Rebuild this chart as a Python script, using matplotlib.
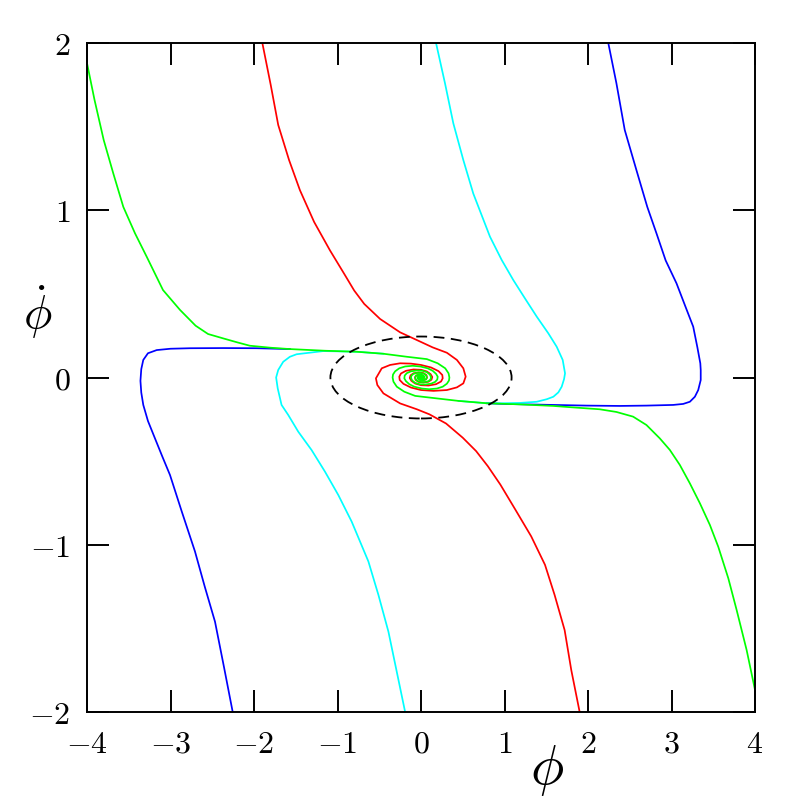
import matplotlib
matplotlib.use("Agg")
import matplotlib.pyplot as plt
from matplotlib.patches import Ellipse

plt.rcParams['mathtext.fontset'] = 'cm'

# ---------------- data ----------------
blue_a_x = [2.243, 2.34, 2.44, 2.58, 2.71, 2.82, 2.93, 3.06, 3.17, 3.26, 3.31, 3.345, 3.35, 3.35, 3.32,
            3.28, 3.22, 3.14, 3.02, 2.70, 2.38, 1.985, 1.585, 1.186, 0.985, 0.787]
blue_a_y = [2.0, 1.76, 1.48, 1.24, 1.02, 0.862, 0.70, 0.563, 0.42, 0.304, 0.18, 0.085, 0.045, -0.015, -0.075,
            -0.115, -0.145, -0.158, -0.164, -0.168, -0.170, -0.168, -0.164, -0.160, -0.158, -0.154]

blue_b_x = [-2.255, -2.36, -2.467, -2.59, -2.707, -2.866, -3.006, -3.10, -3.186, -3.27, -3.326, -3.35, -3.36,
            -3.35, -3.326, -3.27, -3.165, -3.0, -2.766, -2.37, -1.968, -1.57]
blue_b_y = [-2.0, -1.73, -1.46, -1.25, -1.04, -0.80, -0.583, -0.47, -0.364, -0.26, -0.164, -0.09, -0.02,
            0.05, 0.105, 0.145, 0.164, 0.172, 0.175, 0.176, 0.175, 0.170]

cyan_a_x = [0.18, 0.287, 0.387, 0.507, 0.626, 0.826, 0.966, 1.105, 1.245, 1.386, 1.525, 1.625, 1.697, 1.725,
            1.713, 1.685, 1.645, 1.585, 1.505, 1.386, 1.186, 0.985, 0.787, 0.45]
cyan_a_y = [2.0, 1.76, 1.52, 1.30, 1.10, 0.842, 0.703, 0.583, 0.473, 0.364, 0.264, 0.184, 0.105, 0.025,
            -0.01, -0.055, -0.089, -0.115, -0.13, -0.145, -0.152, -0.154, -0.154, -0.14]

cyan_b_x = [-0.19, -0.29, -0.39, -0.51, -0.63, -0.83, -0.99, -1.15, -1.31, -1.47, -1.59, -1.67, -1.716, -1.735,
            -1.71, -1.65, -1.57, -1.49, -1.17, -0.77, -0.45]
cyan_b_y = [-2.0, -1.76, -1.52, -1.30, -1.10, -0.862, -0.703, -0.563, -0.434, -0.324, -0.224, -0.164, -0.065, 0.0,
            0.045, 0.094, 0.124, 0.139, 0.158, 0.154, 0.142]

red_a_x = [-1.90, -1.80, -1.71, -1.58, -1.45, -1.28, -1.09, -0.92, -0.80, -0.68, -0.49, -0.25, -0.05, 0.14, 0.31, 0.43,
           0.507, 0.535,
           0.507, 0.43, 0.31, 0.15, 0.0, -0.12, -0.21, -0.255, -0.26,
           -0.24, -0.18, -0.09, 0.0, 0.07, 0.115, 0.135,
           0.125, 0.09, 0.03, -0.03, -0.065, -0.072,
           -0.06, -0.025, 0.01, 0.033, 0.036, 0.02, 0.0, -0.012]
red_a_y = [2.0, 1.75, 1.51, 1.30, 1.12, 0.93, 0.76, 0.62, 0.52, 0.44, 0.35, 0.27, 0.224, 0.18, 0.148, 0.105,
           0.055, 0.005,
           -0.035, -0.059, -0.075, -0.08, -0.075, -0.06, -0.038, -0.015, 0.005,
           0.024, 0.04, 0.048, 0.046, 0.036, 0.02, 0.003,
           -0.013, -0.025, -0.03, -0.026, -0.014, 0.0,
           0.011, 0.017, 0.015, 0.007, -0.002, -0.008, -0.008, -0.002]

red_b_x = [1.90, 1.80, 1.72, 1.60, 1.485, 1.32, 1.13, 0.95, 0.80, 0.66, 0.50, 0.30, 0.10, -0.05, -0.25, -0.45,
           -0.523, -0.54,
           -0.47, -0.37, -0.25, -0.12, 0.0, 0.12, 0.21, 0.255, 0.26,
           0.24, 0.18, 0.09, 0.0, -0.07, -0.115, -0.135,
           -0.125, -0.09, -0.03, 0.03, 0.065, 0.072,
           0.06, 0.025, -0.01, -0.033, -0.036, -0.02, 0.0, 0.012]
red_b_y = [-2.0, -1.75, -1.51, -1.30, -1.12, -0.95, -0.79, -0.64, -0.53, -0.44, -0.36, -0.275, -0.22, -0.19, -0.155, -0.095,
           -0.045, -0.005,
           0.055, 0.075, 0.085, 0.083, 0.075, 0.06, 0.038, 0.015, -0.005,
           -0.024, -0.04, -0.048, -0.046, -0.036, -0.02, -0.003,
           0.013, 0.025, 0.03, 0.026, 0.014, 0.0,
           -0.011, -0.017, -0.015, -0.007, 0.002, 0.008, 0.008, 0.002]

green_a_x = [-4.0, -3.91, -3.80, -3.685, -3.565, -3.425, -3.285, -3.09, -2.886, -2.70, -2.55, -2.37, -2.2, -2.05,
             -1.8, -1.57, -1.15, -0.77, -0.45, -0.17, 0.07, 0.20, 0.29, 0.33, 0.34,
             0.335, 0.31, 0.26, 0.19, 0.10, 0.01, -0.08, -0.14, -0.18, -0.20,
             -0.195, -0.17, -0.12, -0.05, 0.02, 0.07, 0.105, 0.12,
             0.115, 0.09, 0.05, 0.0, -0.04, -0.065, -0.07,
             -0.06, -0.03, 0.005, 0.03, 0.042,
             0.035, 0.015, -0.01, -0.025, -0.022, -0.005, 0.01]
green_a_y = [1.88, 1.66, 1.42, 1.22, 1.02, 0.862, 0.722, 0.523, 0.404, 0.31, 0.26, 0.234, 0.21, 0.19,
             0.178, 0.170, 0.160, 0.154, 0.142, 0.124, 0.11, 0.085, 0.055, 0.025, 0.0,
             -0.018, -0.037, -0.055, -0.066, -0.07, -0.066, -0.055, -0.04, -0.022, -0.005,
             0.012, 0.026, 0.037, 0.042, 0.04, 0.032, 0.018, 0.003,
             -0.011, -0.022, -0.027, -0.027, -0.021, -0.01, 0.002,
             0.011, 0.016, 0.016, 0.01, 0.002,
             -0.006, -0.01, -0.009, -0.003, 0.004, 0.006, 0.003]

green_b_x = [4.0, 3.90, 3.78, 3.68, 3.56, 3.46, 3.34, 3.22, 3.10, 2.98, 2.86, 2.70, 2.54, 2.34, 2.14,
             1.8, 1.585, 1.15, 0.787, 0.45, 0.19, -0.07, -0.20, -0.29, -0.33, -0.34,
             -0.335, -0.31, -0.26, -0.19, -0.10, -0.01, 0.08, 0.14, 0.18, 0.20,
             0.195, 0.17, 0.12, 0.05, -0.02, -0.07, -0.105, -0.12,
             -0.115, -0.09, -0.05, 0.0, 0.04, 0.065, 0.07,
             0.06, 0.03, -0.005, -0.03, -0.042,
             -0.035, -0.015, 0.01, 0.025, 0.022, 0.005, -0.01]
green_b_y = [-1.868, -1.63, -1.39, -1.20, -1.012, -0.882, -0.752, -0.633, -0.523, -0.433, -0.364, -0.284, -0.234, -0.206, -0.19,
             -0.178, -0.170, -0.160, -0.154, -0.14, -0.125, -0.11, -0.085, -0.055, -0.025, 0.0,
             0.018, 0.037, 0.055, 0.066, 0.07, 0.066, 0.055, 0.04, 0.022, 0.005,
             -0.012, -0.026, -0.037, -0.042, -0.04, -0.032, -0.018, -0.003,
             0.011, 0.022, 0.027, 0.027, 0.021, 0.01, -0.002,
             -0.011, -0.016, -0.016, -0.01, -0.002,
             0.006, 0.01, 0.009, 0.003, -0.004, -0.006, -0.003]

ellipse_center = (0.0, 0.0)
ellipse_width = 2.17
ellipse_height = 0.49

x_ticks = [-4, -3, -2, -1, 0, 1, 2, 3, 4]
y_ticks = [-2, -1, 0, 1, 2]

# ---------------- figure ----------------
fig = plt.figure(figsize=(7.97, 7.97), dpi=100)
ax = fig.add_axes([87/797, 1 - 712/797, (755 - 87)/797, (712 - 43)/797])

lw = 1.25
for xs, ys, c in [(blue_a_x, blue_a_y, '#0000ff'), (blue_b_x, blue_b_y, '#0000ff'),
                  (cyan_a_x, cyan_a_y, '#00ffff'), (cyan_b_x, cyan_b_y, '#00ffff'),
                  (red_a_x, red_a_y, '#ff0000'), (red_b_x, red_b_y, '#ff0000'),
                  (green_a_x, green_a_y, '#00ff00'), (green_b_x, green_b_y, '#00ff00')]:
    ax.plot(xs, ys, color=c, lw=lw, solid_joinstyle='round')

ax.add_patch(Ellipse(ellipse_center, ellipse_width, ellipse_height, fill=False,
                     edgecolor='black', lw=1.3, linestyle=(0, (6, 3.6)), zorder=5))

ax.set_xlim(-4, 4)
ax.set_ylim(-2, 2)
ax.set_xticks(x_ticks)
ax.set_yticks(y_ticks)
ax.set_xticklabels([f'${t}$' for t in x_ticks])
ax.set_yticklabels([f'${t}$' for t in y_ticks])
ax.tick_params(direction='in', length=16, width=1.4, top=True, right=True,
               labelsize=23, pad=12)
for s in ax.spines.values():
    s.set_linewidth(1.4)

ax.text((547 - 87)/668, (712 - 771)/669, r'$\phi$', transform=ax.transAxes,
        fontsize=40, ha='center', va='center')
ax.text((38 - 87)/668, (712 - 312)/669, r'$\dot{\phi}$', transform=ax.transAxes,
        fontsize=34, ha='center', va='center')

fig.savefig('out.png', dpi=100)
